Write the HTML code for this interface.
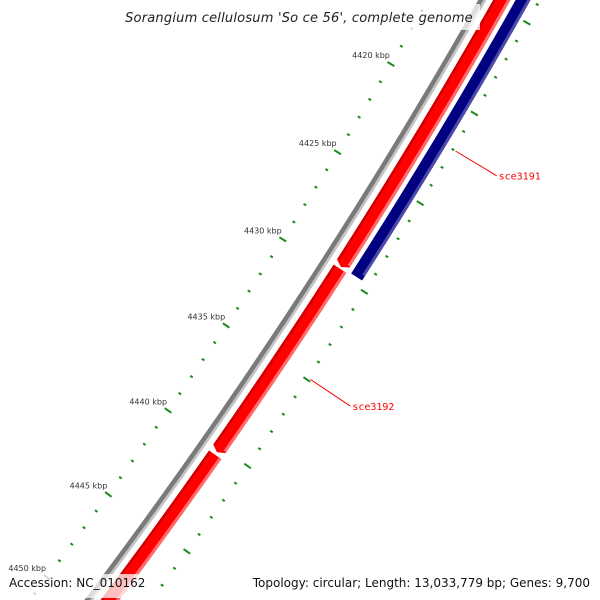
<!DOCTYPE html>
<html><head><meta charset="utf-8"><style>
html,body{margin:0;padding:0;background:#fff;width:600px;height:600px;overflow:hidden;}
svg{display:block;font-family:"Liberation Sans",sans-serif;overflow:hidden;}
</style></head><body>
<svg id="map" width="600" height="600" viewBox="0 0 600 600" xmlns="http://www.w3.org/2000/svg">
<rect x="0" y="0" width="600" height="600" fill="#fff"/>
<g id="rings"></g>
<g id="ticks"></g>
<g id="labels"></g>
<rect x="118" y="4" width="362" height="26" fill="#fff" opacity="0.75"/>
<text x="299" y="22" font-size="13" font-style="italic" text-anchor="middle" fill="#222" font-family="DejaVu Sans, sans-serif" letter-spacing="0.2">Sorangium cellulosum 'So ce 56', complete genome</text>
<rect x="0" y="574" width="150" height="24" fill="#fff" opacity="0.75"/>
<rect x="248" y="574" width="352" height="24" fill="#fff" opacity="0.75"/>
<text x="9" y="587" font-size="12" fill="#111" font-family="DejaVu Sans, sans-serif">Accession: NC_010162</text>
<text x="590" y="587" font-size="12" text-anchor="end" fill="#111" font-family="DejaVu Sans, sans-serif">Topology: circular; Length: 13,033,779 bp; Genes: 9,700</text>
</svg>
<script>
// data
const tickStartKbp = 4405;
const tickEndKbp = 4460;
const majorEvery = 5;
const geneNames = ["sce3190", "sce3191", "sce3192", "sce3193"];
const geneStarts = [4400, 4400, 4429.7, 4440.45];
const geneEnds = [4429.6, 4429.6, 4440.3, 4470];
const geneStrands = [1, -1, 1, 1];
const labelNames = ["sce3191", "sce3192"];
const labelKbp = [4422.0, 4434.9];

// geometry
const CX = -4343, CY = -2736;
const A0 = 32.75, KBP0 = 4430, DEG_PER_KBP = 0.2146;
function ang(p){ return (A0 + DEG_PER_KBP*(p-KBP0))*Math.PI/180; }
function pt(r,p){ const a=ang(p); return [CX + r*Math.cos(a), CY + r*Math.sin(a)]; }
const NS="http://www.w3.org/2000/svg";
function mk(tag, parent){ const e=document.createElementNS(NS,tag); parent.appendChild(e); return e; }
function arcPts(r,p1,p2,n){ const a=[]; for(let i=0;i<=n;i++){ a.push(pt(r,p1+(p2-p1)*i/n)); } return a; }
function band(r1,r2,p1,p2){ return arcPts(r1,p1,p2,40).concat(arcPts(r2,p2,p1,40)); }
function ps(a){ return a.map(q=>q[0].toFixed(2)+","+q[1].toFixed(2)).join(" "); }

const rings=document.getElementById('rings');
const bb=mk('polygon',rings);


bb.setAttribute('points',ps(band(5543.5,5550.5,4400,4460)));
bb.setAttribute('fill','#7a7a7a');
const bbl=mk('polygon',rings);


bbl.setAttribute('points',ps(band(5548,5550.5,4400,4460)));
bbl.setAttribute('fill','#c4c4c4');

for(let i=0;i<geneNames.length;i++){
  const s=geneStarts[i], e=Math.min(geneEnds[i],4460), st=geneStrands[i];
  const r1 = st>0 ? 5556.5 : 5576;
  const r2 = st>0 ? 5571.5 : 5589;
  const tip = 0.2;
  let poly;
  if(st>0){
    poly = arcPts(r1,s,e-tip,40).concat([pt((r1+r2)/2,e)]).concat(arcPts(r2,e-tip,s,40));
  } else {
    poly = band(r1,r2,s,e);
  }
  const g=mk('polygon',rings);
  
  
  g.setAttribute('points',ps(poly));
  g.setAttribute('fill', st>0 ? '#ff0000' : '#000080');
  const h=mk('polygon',rings);
  
  
  h.setAttribute('points',ps(band(r2-3,r2,s,e-tip-0.05)));
  h.setAttribute('fill', st>0 ? '#ff6a6a' : '#4a4aa8');
  if(st>0){
    const d=mk('polygon',rings);
    
    
    d.setAttribute('points',ps(band(r1,r1+2.5,s,e-tip-0.05)));
    d.setAttribute('fill','#d00000');
  }
}

const ticks=document.getElementById('ticks');
for(let p=tickStartKbp;p<=tickEndKbp;p++){
  const major = (p%majorEvery===0);
  const len = major?4:1.5;
  for(const rc of [5500,5597]){
    const a=pt(rc-len,p), b=pt(rc+len,p);
    const l=mk('line',ticks);
    
    
    l.setAttribute('x1',a[0]); l.setAttribute('y1',a[1]);
    l.setAttribute('x2',b[0]); l.setAttribute('y2',b[1]);
    l.setAttribute('stroke','#1a8a1a');
    l.setAttribute('stroke-width','2');
  }
  if(major){
    const c=pt(5500,p);
    const t=mk('text',ticks);
    
    
    t.setAttribute('x',c[0]-1);
    t.setAttribute('y',c[1]-6);
    t.setAttribute('text-anchor','end');
    t.setAttribute('font-size','8');
    t.setAttribute('fill','#333');
    t.setAttribute('font-family','DejaVu Sans, sans-serif');
    t.textContent=p+' kbp';
  }
}

const labels=document.getElementById('labels');
for(let i=0;i<labelNames.length;i++){
  const a=pt(5600,labelKbp[i]), b=pt(5648,labelKbp[i]);
  const l=mk('line',labels);
  
  
  l.setAttribute('x1',a[0]); l.setAttribute('y1',a[1]);
  l.setAttribute('x2',b[0]); l.setAttribute('y2',b[1]);
  l.setAttribute('stroke','#ff0000');
  l.setAttribute('stroke-width','1');
  const t=mk('text',labels);
  
  
  t.setAttribute('x',b[0]+2);
  t.setAttribute('y',b[1]+4);
  t.setAttribute('font-size','10');
  t.setAttribute('fill','#ff0000');
  t.setAttribute('font-family','DejaVu Sans Mono, monospace');
  t.textContent=labelNames[i];
}
</script>
</body></html>
